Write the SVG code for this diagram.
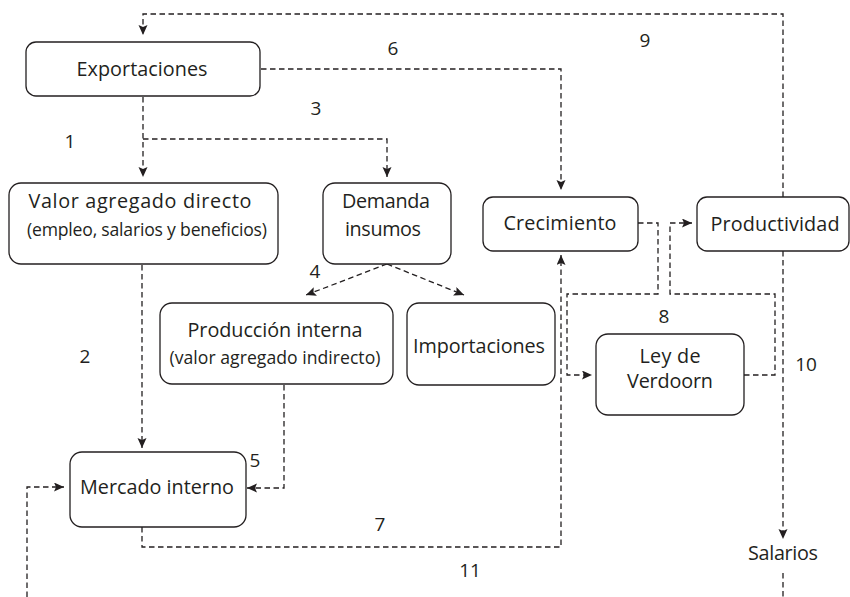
<svg xmlns="http://www.w3.org/2000/svg" width="850" height="597" viewBox="0 0 850 597">
<style>
  .box { fill: #ffffff; stroke: #231f20; stroke-width: 1.3; }
  .lbl { font-family: "Open Sans", "Liberation Sans", sans-serif; font-size: 19.8px; fill: #231f20; text-anchor: middle; }
  .sub { font-size: 17.6px; }
  .num { font-family: "Open Sans", "Liberation Sans", sans-serif; font-size: 19px; fill: #231f20; text-anchor: middle; }
  .conn { fill: none; stroke: #231f20; stroke-width: 1.3; stroke-dasharray: 5.5 3.5; }
  .arr { marker-end: url(#ah); }
</style>
<defs>
  <marker id="ah" markerUnits="userSpaceOnUse" markerWidth="11" markerHeight="10" refX="10" refY="4.5" orient="auto">
    <path d="M0,0 L10,4.5 L0,9 L2,4.5 z" fill="#231f20"/>
  </marker>
</defs>
<rect width="850" height="597" fill="#ffffff"/>

<g id="connectors">
  <path class="conn arr" d="M783,197 V14 H143 V35"/>
  <path class="conn arr" d="M143,97 V177"/>
  <path class="conn arr" d="M143,139 H387 V177"/>
  <path class="conn arr" d="M261,69 H561 V190"/>
  <path class="conn arr" d="M387,264 L306,295"/>
  <path class="conn arr" d="M387,264 L464,295"/>
  <path class="conn arr" d="M142,265 V448"/>
  <path class="conn arr" d="M284,385 V488 H247"/>
  <path class="conn arr" d="M142,527 V547 H561 V255"/>
  <path class="conn arr" d="M638,223 H658 V294 H567 V375 H592"/>
  <path class="conn arr" d="M744,375 H775 V294 H670 V223 H692"/>
  <path class="conn arr" d="M783,251 V539"/>
  <path class="conn" d="M783,573 V597"/>
  <path class="conn arr" d="M27,597 V487 H64"/>
</g>

<g id="exportaciones">
  <rect class="box" x="26" y="42" width="234" height="54" rx="10"/>
  <text class="lbl" x="142" y="76" textLength="131" lengthAdjust="spacing">Exportaciones</text>
</g>
<g id="valor-agregado">
  <rect class="box" x="9" y="183" width="269" height="81" rx="12"/>
  <text class="lbl" x="140" y="208" textLength="223" lengthAdjust="spacing">Valor agregado directo</text>
  <text class="lbl sub" x="147" y="236" textLength="240" lengthAdjust="spacing">(empleo, salarios y beneficios)</text>
</g>
<g id="demanda-insumos">
  <rect class="box" x="323" y="183" width="128" height="81" rx="12"/>
  <text class="lbl" x="386" y="208" textLength="88" lengthAdjust="spacing">Demanda</text>
  <text class="lbl" x="383" y="236" textLength="76" lengthAdjust="spacing">insumos</text>
</g>
<g id="produccion-interna">
  <rect class="box" x="160" y="303" width="233" height="81" rx="12"/>
  <text class="lbl" x="275" y="337" textLength="175" lengthAdjust="spacing">Producción interna</text>
  <text class="lbl sub" x="275" y="364" textLength="211" lengthAdjust="spacing">(valor agregado indirecto)</text>
</g>
<g id="importaciones">
  <rect class="box" x="407" y="303" width="148" height="82" rx="12"/>
  <text class="lbl" x="479" y="353" textLength="132" lengthAdjust="spacing">Importaciones</text>
</g>
<g id="crecimiento">
  <rect class="box" x="483" y="197" width="155" height="54" rx="10"/>
  <text class="lbl" x="560" y="230" textLength="113" lengthAdjust="spacing">Crecimiento</text>
</g>
<g id="productividad">
  <rect class="box" x="697" y="197" width="152" height="54" rx="10"/>
  <text class="lbl" x="775" y="231" textLength="129" lengthAdjust="spacing">Productividad</text>
</g>
<g id="ley-verdoorn">
  <rect class="box" x="596" y="334" width="148" height="81" rx="12"/>
  <text class="lbl" x="670" y="363" textLength="61" lengthAdjust="spacing">Ley de</text>
  <text class="lbl" x="670" y="388" textLength="86" lengthAdjust="spacing">Verdoorn</text>
</g>
<g id="mercado-interno">
  <rect class="box" x="70" y="452" width="176" height="75" rx="12"/>
  <text class="lbl" x="157" y="494" textLength="154" lengthAdjust="spacing">Mercado interno</text>
</g>
<g id="salarios">
  <text class="lbl" x="783" y="560" textLength="70" lengthAdjust="spacing">Salarios</text>
</g>

<g id="numbers">
  <text class="num" x="70" y="148">1</text>
  <text class="num" x="85" y="363">2</text>
  <text class="num" x="316" y="115">3</text>
  <text class="num" x="315" y="278">4</text>
  <text class="num" x="255" y="467">5</text>
  <text class="num" x="393" y="55">6</text>
  <text class="num" x="380" y="531">7</text>
  <text class="num" x="664" y="323">8</text>
  <text class="num" x="645" y="47">9</text>
  <text class="num" x="806" y="371">10</text>
  <text class="num" x="470" y="577">11</text>
</g>
</svg>
